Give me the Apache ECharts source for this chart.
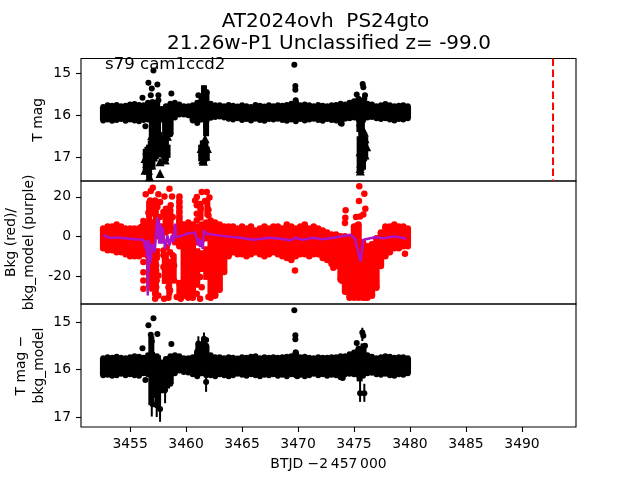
<!DOCTYPE html>
<html><head><meta charset="utf-8">
<style>html,body{margin:0;padding:0;background:#fff}#c{width:640px;height:480px}</style>
<script src="https://cdn.jsdelivr.net/npm/echarts@6/dist/echarts.min.js"></script>
</head><body><div id="c"></div>
<script>
const xTicks=[3455,3460,3465,3470,3475,3480,3485,3490];
const magTicks=[15,16,17];
const bkgTicks=[-20,0,20];
const subTicks=[15,16,17];
const eventTime=3492.77;
const bandTimes=[3452.6,3453.0,3453.4,3453.8,3454.2,3454.6,3455.0,3455.4,3455.8,3456.2,3456.6,3457.0,3457.4,3457.8,3458.2,3458.6,3459.0,3459.4,3459.8,3460.2,3460.6,3461.0,3461.4,3461.8,3462.2,3462.6,3463.0,3463.4,3463.8,3464.2,3464.6,3465.0,3465.4,3465.8,3466.2,3466.6,3467.0,3467.4,3467.8,3468.2,3468.6,3469.0,3469.4,3469.8,3470.2,3470.6,3471.0,3471.4,3471.8,3472.2,3472.6,3473.0,3473.4,3473.8,3474.2,3474.6,3475.0,3475.4,3475.8,3476.2,3476.6,3477.0,3477.4,3477.8,3478.2,3478.6,3479.0,3479.4,3479.8];
const magHi=[15.80,15.76,15.77,15.75,15.78,15.77,15.74,15.73,15.75,15.76,15.70,15.68,15.70,15.85,15.78,15.72,15.70,15.74,15.78,15.78,15.76,15.70,15.60,15.45,15.72,15.76,15.76,15.78,15.75,15.77,15.79,15.76,15.78,15.80,15.75,15.77,15.79,15.76,15.78,15.76,15.77,15.75,15.72,15.68,15.76,15.74,15.76,15.78,15.75,15.77,15.78,15.76,15.75,15.72,15.74,15.70,15.66,15.60,15.65,15.72,15.74,15.78,15.76,15.73,15.76,15.78,15.77,15.76,15.78];
const magLo=[16.12,16.10,16.13,16.11,16.09,16.13,16.10,16.12,16.14,16.11,16.10,16.30,16.50,16.10,16.20,16.45,16.05,15.98,15.98,16.00,16.12,16.18,16.10,16.15,16.06,16.04,16.03,16.05,16.08,16.10,16.07,16.11,16.09,16.12,16.08,16.11,16.13,16.09,16.10,16.08,16.11,16.13,16.10,16.14,16.09,16.12,16.10,16.08,16.11,16.13,16.09,16.11,16.12,16.18,16.08,16.07,16.05,16.10,16.12,16.05,16.04,16.07,16.09,16.07,16.10,16.12,16.09,16.10,16.07];
const magTimes=[3457.09,3456.64,3457.44,3456.11,3458.69,3456.37,3456.94,3456.85,3457.53,3457.53,3461.79,3461.10,3461.60,3461.85,3461.70,3469.67,3469.76,3469.76,3469.79,3475.24,3475.77,3475.83,3475.98,3475.92,3475.48,3473.90];
const magVals=[14.93,15.22,15.26,15.58,15.48,16.26,15.36,15.52,15.52,15.64,16.26,15.52,15.36,15.45,15.56,14.79,15.30,15.39,15.64,15.50,15.25,15.33,15.52,15.60,16.25,16.20];
const limitTimes=[3456.73,3456.64,3456.49,3456.64,3456.49,3456.79,3456.94,3457.09,3457.24,3457.38,3457.68,3457.68,3458.13,3458.22,3457.83,3457.98,3457.53,3456.94,3456.34,3456.34,3458.34,3461.49,3461.49,3461.61,3461.70,3461.34,3461.91,3461.79,3461.55,3475.54,3475.60,3475.68,3475.54,3475.98,3475.83,3475.98,3475.68,3475.92,3475.77,3476.13,3475.56];
const limitVals=[17.47,17.31,17.15,17.00,16.83,16.72,17.19,16.99,16.83,16.67,17.39,17.11,17.07,16.91,16.83,16.72,16.52,16.48,17.31,17.03,16.50,17.06,16.87,16.72,16.56,16.79,16.79,16.98,17.10,17.27,17.15,16.99,16.87,16.95,16.71,16.56,16.60,16.40,16.33,16.75,17.33];
const magErrT=[3456.94,3457.24,3457.50,3458.13,3458.30,3461.60,3461.79,3475.48,3475.70,3456.40,3456.70,3457.00,3457.30,3457.60,3457.90,3458.20,3461.35,3461.60,3461.85,3475.50,3475.80,3476.00,3456.55,3456.85,3457.15,3457.45,3457.75,3458.05,3458.35,3461.50,3461.72,3475.65,3475.90];
const magErrHi=[16.1,16.1,16.1,16.1,16.1,15.28,16.1,16.1,16.1,16.8,16.7,16.4,16.4,16.4,16.5,16.5,16.7,16.6,16.75,16.5,16.35,16.5,16.75,16.6,16.5,16.5,16.6,16.55,16.7,16.6,16.6,16.4,16.4];
const magErrLo=[16.9,16.7,16.6,16.7,16.6,15.8,16.5,16.4,16.5,17.35,17.5,17.25,17.05,16.95,17.0,17.1,17.1,17.15,17.05,17.33,17.3,17.05,17.4,17.3,17.1,17.0,17.0,17.1,17.0,17.1,17.1,17.33,17.1];
const bkgTimes=[3456.40,3456.85,3457.03,3457.53,3458.52,3458.07,3458.75,3459.41,3459.41,3459.41,3459.41,3459.41,3456.79,3457.24,3457.68,3456.94,3457.44,3456.85,3456.64,3458.63,3458.22,3458.57,3457.98,3458.34,3458.81,3457.24,3457.68,3456.19,3455.99,3456.19,3456.19,3456.19,3456.19,3457.33,3457.33,3457.33,3457.53,3457.38,3457.33,3457.24,3457.24,3457.53,3456.79,3456.94,3456.85,3457.98,3458.22,3457.98,3458.57,3458.34,3458.13,3458.43,3458.57,3458.93,3459.41,3459.47,3459.17,3459.53,3458.43,3458.04,3458.81,3458.93,3458.57,3458.28,3457.83,3457.98,3456.79,3457.09,3460.96,3460.81,3461.40,3461.85,3462.09,3461.70,3460.96,3461.31,3462.00,3462.00,3460.96,3460.96,3461.25,3461.40,3461.25,3461.40,3460.96,3461.25,3462.00,3462.44,3475.47,3475.92,3475.44,3476.01,3474.25,3474.22,3474.19,3475.18,3475.53,3475.83,3475.30,3469.73,3479.55,3473.15,3473.90,3474.64,3475.38,3476.01,3474.70,3475.18];
const bkgVals=[21.3,22.9,24.6,21.3,24.1,20.2,20.2,20.2,17.4,14.8,12.3,9.8,18.2,18.2,17.4,15.7,14.8,12.3,12.0,15.7,14.0,13.2,12.3,10.6,9.8,11.5,9.8,7.8,4.7,-13.0,-18.1,-22.3,-26.5,-9.6,-14.7,-17.2,-19.8,-22.3,-25.7,-29.0,-31.6,-29.9,-15.5,-20.6,-25.7,-9.6,-12.2,-15.5,-13.0,-19.8,-22.3,-25.7,-27.4,-22.3,-24.0,-27.4,-30.7,-31.6,-31.1,-31.6,-9.6,-14.7,-8.0,-5.4,-2.0,-7.1,-11.3,-7.1,19.9,18.2,22.4,22.4,19.6,17.9,15.7,14.0,13.5,10.6,11.5,8.1,-12.2,-16.4,-20.6,-25.7,-29.0,-31.6,-30.7,-29.9,25.3,21.6,17.9,14.0,13.2,9.4,6.7,9.8,10.1,11.0,5.6,-17.2,-8.8,-15.9,-16.4,-29.9,-30.7,-31.0,-25.7,-21.4];
const bkgHi=[4,5,5,6,5,4,4,4,4,6,6,7,9,5,8,9,4,8,6,7,6,5,6,7,8,7,6,5,5,5,4,5,4,5,3,4,5,4,5,5,4,6,5,4,5,6,4,5,4,3,2,1,1,0,0,-1,5,6,-3,-5,-4,-1,2,5,5,6,5,5,4];
const bkgLo=[-6,-7,-7,-8,-8,-9,-10,-10,-10,-9,-10,-3,0,1,2,3,-3,-5,-30,-31,-31,-3,-2,-1,-31,-30,-27,-18,-10,-8,-9,-9,-10,-9,-8,-9,-10,-9,-8,-9,-10,-11,-12,-10,-9,-9,-10,-9,-9,-11,-12,-14,-15,-22,-28,-31,-31,-31,-31,-31,-30,-26,-15,-10,-8,-6,-6,-5,-5];
const bkgLowT=[3461.0,3461.4,3461.8,3457.0,3457.4,3458.2,3456.7,3457.0,3457.3,3458.2,3458.6,3459.4,3456.7,3457.0,3457.3,3458.1,3458.5,3458.9,3459.4,3461.3,3461.9,3474.0];
const bkgLowHi=[-6,-7,-5,-8,-6,-8,18,18,17,15,14,20,-3,-8,-9,-9,-12,-9,-22,18,19,-16];
const bkgLowLo=[-26,-18,-22,-13,-12,-14,6,10,6,8,9,8,-26,-28,-30,-24,-30,-23,-31,8,10,-24];
const modelTimes=[3452.6,3453.07,3454.11,3455.45,3456.19,3456.4,3456.45,3456.5,3456.55,3456.58,3456.62,3456.66,3456.7,3456.75,3456.8,3456.85,3456.95,3457.03,3457.2,3457.35,3457.44,3457.5,3457.55,3457.6,3457.68,3457.83,3457.92,3458.13,3458.34,3458.52,3458.72,3458.87,3459.02,3459.11,3459.47,3460.06,3460.81,3461.1,3461.2,3461.25,3461.35,3461.49,3461.61,3461.85,3462.89,3463.63,3464.82,3466.0,3467.5,3468.39,3469.43,3469.73,3470.47,3471.37,3472.11,3473.15,3474.04,3474.64,3475.09,3475.59,3475.83,3476.87,3477.62,3478.66,3479.64];
const modelVals=[0.8,-0.7,-0.7,-1.5,-1.7,-6.3,-2,-10,-4,-29.9,-10,-18,-2,-14,-4,-12.2,-5,-3.7,-8,3,9.8,0,8,-3.7,6.4,-3.7,4.7,-6.3,0.5,-4.6,0.5,-2.9,6.4,-0.4,0,1.3,1.9,-4.6,-1,-5.4,-2,-6.3,3,1.3,0.5,0,-0.7,-1.7,-0.7,-1.2,-2,-0.7,-1.7,-0.7,-1.5,-0.7,0.2,0.8,-1.2,-12.7,-1.7,-0.4,-0.9,0,-1.2];
const subHi=[15.76,15.74,15.75,15.73,15.75,15.76,15.74,15.72,15.73,15.75,15.70,15.68,15.72,15.85,15.78,15.72,15.70,15.72,15.76,15.76,15.74,15.62,15.55,15.50,15.70,15.74,15.74,15.76,15.74,15.75,15.77,15.74,15.75,15.73,15.72,15.76,15.74,15.75,15.74,15.75,15.74,15.73,15.72,15.64,15.74,15.73,15.75,15.76,15.74,15.75,15.75,15.74,15.74,15.72,15.72,15.68,15.64,15.56,15.62,15.70,15.73,15.76,15.74,15.72,15.73,15.75,15.74,15.74,15.76];
const subLo=[16.12,16.11,16.13,16.12,16.09,16.12,16.10,16.12,16.13,16.08,16.10,16.35,16.45,16.20,16.25,16.30,16.08,16.02,16.05,16.06,16.10,16.14,16.08,16.12,16.12,16.14,16.10,16.12,16.14,16.12,16.09,16.11,16.13,16.10,16.12,16.14,16.11,16.12,16.10,16.13,16.11,16.14,16.10,16.12,16.11,16.14,16.12,16.09,16.12,16.10,16.13,16.11,16.12,16.16,16.10,16.09,16.10,16.12,16.13,16.08,16.07,16.10,16.11,16.09,16.12,16.13,16.10,16.11,16.08];
const subTimes=[3457.09,3456.64,3457.44,3456.11,3458.69,3456.85,3456.94,3456.37,3461.79,3461.10,3461.79,3461.60,3457.68,3457.03,3457.44,3457.38,3458.13,3458.22,3469.67,3469.76,3469.76,3469.79,3475.24,3475.74,3475.83,3475.98,3473.99,3469.94,3475.54,3475.54,3475.92];
const subVals=[14.92,15.07,15.25,15.55,15.46,15.27,15.41,16.22,16.26,15.45,15.38,15.35,16.83,16.73,16.64,16.75,16.43,16.25,14.75,15.28,15.36,15.64,15.44,15.22,15.29,15.50,16.18,16.14,16.13,16.50,16.50];
const subErrT=[3456.94,3457.38,3457.68,3458.13,3461.79,3461.10,3461.60,3475.54,3475.92,3475.74];
const subErrHi=[15.94,16.22,16.50,16.22,16.12,15.30,15.22,16.00,16.30,15.12];
const subErrLo=[16.99,17.00,17.10,16.71,16.47,15.85,15.75,16.68,16.68,15.40];
const subClumpT=[3456.9,3457.2,3457.5,3458.0,3458.3,3458.6,3461.1,3461.6,3475.5,3475.85];
const subClumpHi=[15.3,15.7,15.7,16.0,16.0,16.0,15.45,15.35,15.5,15.45];
const subClumpLo=[16.75,16.6,16.7,16.5,16.4,16.3,15.8,15.8,16.25,15.8];

const zip=(a,b)=>a.map((v,i)=>[v,b[i]]);
const FONT='DejaVu Sans';
const colSeries=(ts,hi,lo,idx,color,w)=>({type:'custom',xAxisIndex:idx,yAxisIndex:idx,silent:true,
  data:ts.map((t,i)=>[t,hi[i],lo[i]]),encode:{x:0,y:[1,2]},
  renderItem:(p,api)=>{const a=api.coord([api.value(0),api.value(1)]),b=api.coord([api.value(0),api.value(2)]);
    return {type:'line',shape:{x1:a[0],y1:a[1],x2:b[0],y2:b[1]},style:{stroke:color,lineWidth:w}};}});
const dots=(ts,vs,idx,color,size,sym)=>({type:'scatter',xAxisIndex:idx,yAxisIndex:idx,silent:true,symbol:sym||'circle',symbolSize:size,
  itemStyle:{color:color,opacity:1},data:zip(ts,vs)});
const X0=3450.62,X1=3494.82;
const xa=(idx,labels)=>({type:'value',gridIndex:idx,min:X0,max:X1,splitLine:{show:false},axisLine:{show:false,onZero:false},
  axisTick:{show:labels,length:5,lineStyle:{color:'#000',width:1.1},customValues:xTicks},
  axisLabel:{show:labels,color:'#000',fontFamily:FONT,fontSize:13.9,margin:10,customValues:xTicks,formatter:v=>String(v)},
  ...(labels?{name:'BTJD \u22122\u2009457\u2009000',nameLocation:'middle',nameGap:30,nameMoveOverlap:false,nameTextStyle:{color:'#000',fontFamily:FONT,fontSize:13.9}}:{})});
const ya=(idx,min,max,ticks,inv,name,gap)=>({type:'value',gridIndex:idx,min,max,inverse:inv,splitLine:{show:false},axisLine:{show:false,onZero:false},
  axisTick:{show:true,length:5,lineStyle:{color:'#000',width:1.1},customValues:ticks},
  axisLabel:{color:'#000',fontFamily:FONT,fontSize:13.9,margin:10,customValues:ticks,formatter:v=>String(v)},
  name,nameLocation:'middle',nameRotate:90,nameGap:gap,nameMoveOverlap:false,nameTextStyle:{color:'#000',fontFamily:FONT,fontSize:13.9,lineHeight:18,align:'center'}});
const borderGrid=(top,h)=>({left:81,width:495,top,height:h,show:true,borderColor:'#000',borderWidth:1.1,backgroundColor:'transparent',outerBoundsMode:'none',containLabel:false});
const option={animation:false,backgroundColor:'#fff',
 title:[
  {text:'AT2024ovh  PS24gto',left:320.5,top:7,textAlign:'center',textStyle:{fontFamily:FONT,fontWeight:'normal',fontSize:20,color:'#000'}},
  {text:'21.26w-P1 Unclassified z= -99.0',left:324,top:29,textAlign:'center',textStyle:{fontFamily:FONT,fontWeight:'normal',fontSize:20,color:'#000'}},
  {text:'s79 cam1ccd2',left:100,top:51,textStyle:{fontFamily:FONT,fontWeight:'normal',fontSize:16.6,color:'#000'},z:10}
 ],
 grid:[borderGrid(58.5,122.5),borderGrid(181,123),borderGrid(304,123)],
 xAxis:[xa(0,false),xa(1,false),xa(2,true)],
 yAxis:[ya(0,14.64,17.57,magTicks,true,'T mag',34),ya(1,-34.2,28,bkgTicks,false,'Bkg (red)/\nbkg_model (purple)',43),ya(2,14.62,17.21,subTicks,true,'T mag \u2212\nbkg_model',33)],
 series:[
  colSeries(bandTimes,magHi,magLo,0,'#000',6.5),
  colSeries(magErrT,magErrHi,magErrLo,0,'#000',6),
  dots(bandTimes,magHi,0,'#000',6),
  dots(bandTimes,magLo,0,'#000',6),
  dots(magTimes,magVals,0,'#000',6),
  dots(limitTimes,limitVals,0,'#000',9,'triangle'),
  {type:'line',xAxisIndex:0,yAxisIndex:0,silent:true,symbol:'none',data:[[eventTime,14.64],[eventTime,17.57]],lineStyle:{color:'#f00',width:2,type:[7.5,3.5]}},
  colSeries(bandTimes,bkgHi,bkgLo,1,'#f00',6.5),
  colSeries(bkgLowT,bkgLowHi,bkgLowLo,1,'#f00',6),
  dots(bandTimes,bkgHi,1,'#f00',6.5),
  dots(bandTimes,bkgLo,1,'#f00',6.5),
  dots(bkgTimes,bkgVals,1,'#f00',6.5),
  {type:'line',xAxisIndex:1,yAxisIndex:1,silent:true,symbol:'none',z:5,data:zip(modelTimes,modelVals),lineStyle:{color:'#ac12c8',width:2.5}},
  colSeries(bandTimes,subHi,subLo,2,'#000',6.5),
  colSeries(subClumpT,subClumpHi,subClumpLo,2,'#000',6),
  colSeries(subErrT,subErrHi,subErrLo,2,'#000',2),
  dots(bandTimes,subHi,2,'#000',6),
  dots(bandTimes,subLo,2,'#000',6),
  dots(subTimes,subVals,2,'#000',6)
 ]};
echarts.init(document.getElementById('c'),null,{renderer:'canvas'}).setOption(option);
</script></body></html>
